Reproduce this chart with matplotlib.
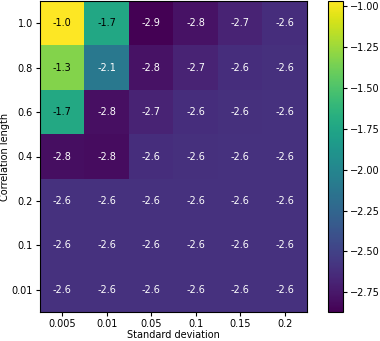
import matplotlib
matplotlib.use("Agg")
import matplotlib.pyplot as plt
import numpy as np

std_devs = ["0.005", "0.01", "0.05", "0.1", "0.15", "0.2"]
corr_lengths = ["1.0", "0.8", "0.6", "0.4", "0.2", "0.1", "0.01"]

# one row per correlation length, top to bottom
row_10 = [-0.97, -1.73, -2.87, -2.78, -2.68, -2.62]
row_08 = [-1.32, -2.11, -2.78, -2.68, -2.62, -2.61]
row_06 = [-1.72, -2.79, -2.68, -2.62, -2.61, -2.60]
row_04 = [-2.80, -2.81, -2.62, -2.61, -2.60, -2.60]
row_02 = [-2.60, -2.60, -2.60, -2.60, -2.60, -2.60]
row_01 = [-2.60, -2.60, -2.60, -2.60, -2.60, -2.60]
row_001 = [-2.60, -2.60, -2.60, -2.60, -2.60, -2.60]

values = np.array([row_10, row_08, row_06, row_04, row_02, row_01, row_001])

FS = 7

fig = plt.figure(figsize=(3.8, 3.41), dpi=100)
ax = fig.add_axes([40 / 380, 29 / 341, 267 / 380, 311 / 341])
cax = fig.add_axes([328 / 380, 29 / 341, 15 / 380, 311 / 341])

im = ax.imshow(values, cmap="viridis", aspect="auto")
ax.set_xticks(range(len(std_devs)))
ax.set_xticklabels(std_devs, fontsize=FS)
ax.set_yticks(range(len(corr_lengths)))
ax.set_yticklabels(corr_lengths, fontsize=FS)
ax.set_xlabel("Standard deviation", fontsize=FS, labelpad=1)
ax.set_ylabel("Correlation length", fontsize=FS, labelpad=1)
ax.tick_params(length=3, pad=2)

for i in range(values.shape[0]):
    for j in range(values.shape[1]):
        v = values[i, j]
        col = "black" if v > -2.0 else "w"
        ax.text(j, i, f"{v:.1f}", ha="center", va="center", color=col, fontsize=FS)

cb = fig.colorbar(im, cax=cax)
cb.set_ticks([-1.0, -1.25, -1.5, -1.75, -2.0, -2.25, -2.5, -2.75])
cb.ax.tick_params(labelsize=FS, length=3, pad=2)

fig.savefig("out.png", dpi=100)
